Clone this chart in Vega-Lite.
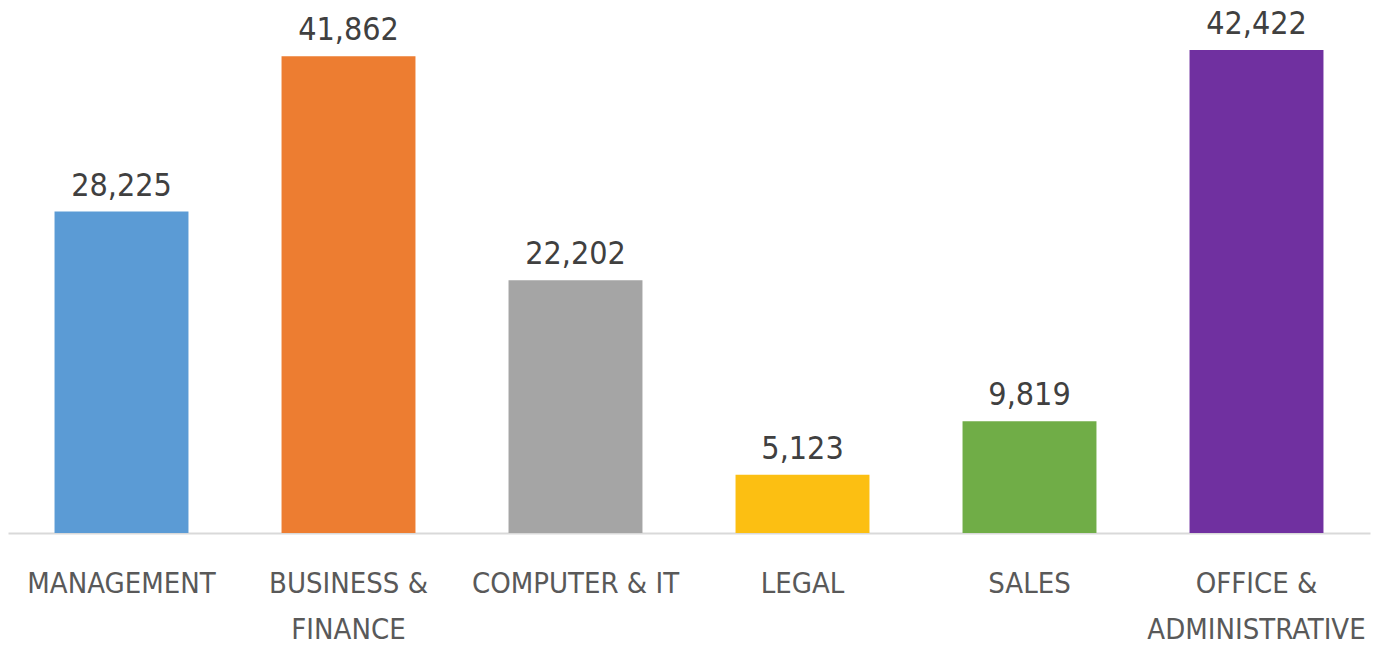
{
  "$schema": "https://vega.github.io/schema/vega-lite/v6.json",
  "width": 1362,
  "height": 533,
  "autosize": {"type": "none"},
  "padding": {"left": 8, "top": 0, "right": 19, "bottom": 114},
  "background": "white",
  "config": {"view": {"stroke": null}},
  "data": {
    "values": [
      {"category": "MANAGEMENT", "value": 28225, "color": "#5b9bd5"},
      {"category": "BUSINESS &|FINANCE", "value": 41862, "color": "#ed7d31"},
      {"category": "COMPUTER & IT", "value": 22202, "color": "#a5a5a5"},
      {"category": "LEGAL", "value": 5123, "color": "#fcbf12"},
      {"category": "SALES", "value": 9819, "color": "#70ad47"},
      {"category": "OFFICE &|ADMINISTRATIVE", "value": 42422, "color": "#7030a0"}
    ]
  },
  "encoding": {
    "x": {
      "field": "category",
      "type": "nominal",
      "sort": null,
      "scale": {"paddingInner": 0.41, "paddingOuter": 0.205},
      "axis": {
        "title": null,
        "ticks": false,
        "labelAngle": 0,
        "labelExpr": "split(datum.label, '|')",
        "labelFont": "'DejaVu Sans Condensed', Roboto, sans-serif",
        "labelFontSize": 29,
        "labelLimit": 400,
        "labelColor": "#595959",
        "labelBaseline": "alphabetic",
        "labelPadding": 59,
        "labelLineHeight": 46,
        "domainColor": "#d9d9d9",
        "domainWidth": 2,
        "grid": false
      }
    },
    "y": {
      "field": "value",
      "type": "quantitative",
      "scale": {"domain": [0, 46811], "nice": false},
      "axis": null
    }
  },
  "layer": [
    {
      "mark": {"type": "bar"},
      "encoding": {
        "color": {"field": "color", "type": "nominal", "scale": null, "legend": null}
      }
    },
    {
      "mark": {
        "type": "text",
        "baseline": "alphabetic",
        "dy": -16,
        "font": "'DejaVu Sans Condensed', Roboto, sans-serif",
        "fontSize": 32,
        "color": "#404040"
      },
      "encoding": {
        "text": {"field": "value", "type": "quantitative", "format": ","}
      }
    }
  ]
}
